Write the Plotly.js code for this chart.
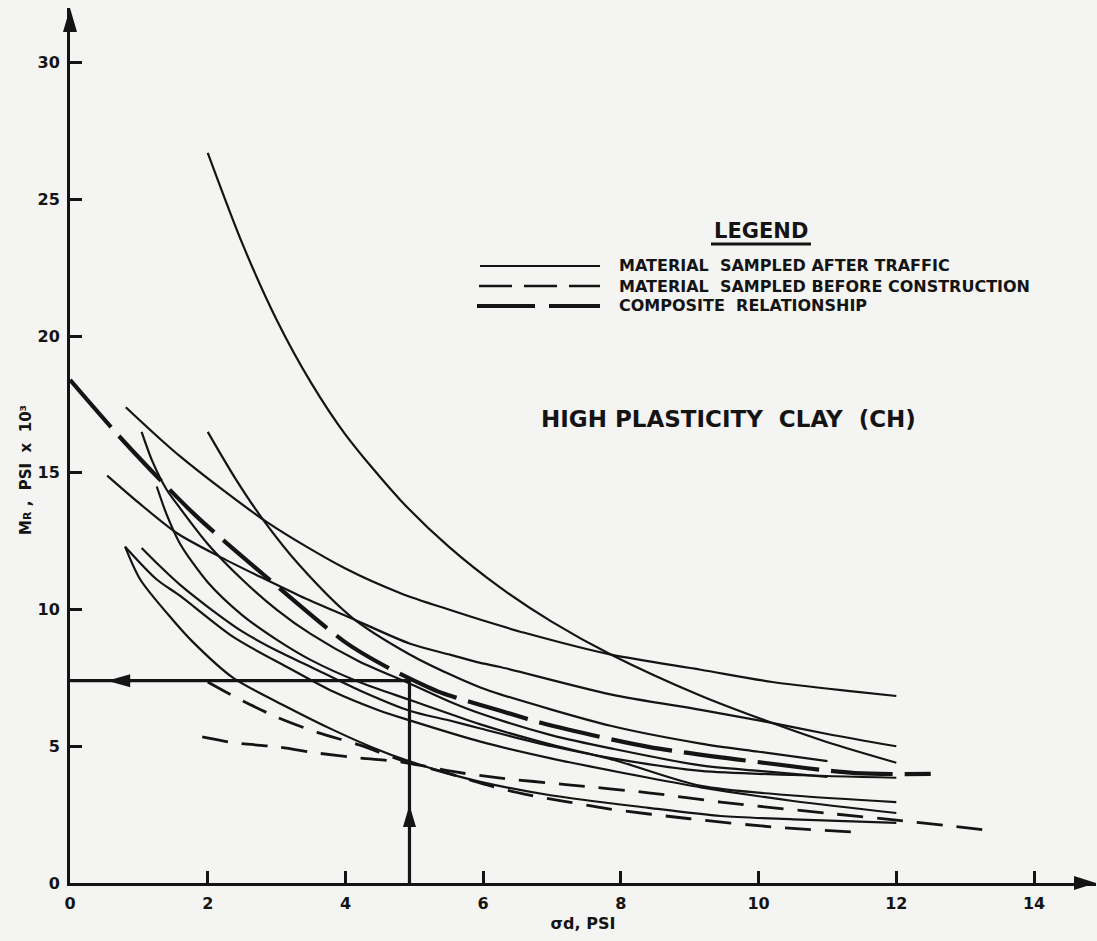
<!DOCTYPE html>
<html><head><meta charset="utf-8">
<script src="https://cdn.plot.ly/plotly-3.0.1.min.js"></script>
<style>html,body{margin:0;padding:0;background:#f4f4f2}</style>
</head><body><div id="chart" style="width:1097px;height:941px"></div>
<script>
// ---- data (x = sigma_d, psi ; y = M_R, psi x 10^3) ----
const s1x = [2.0, 2.5, 3.0, 3.5, 4.0, 4.8, 5.5, 6.25, 7.0, 7.86, 9.16, 10.2, 11.0, 12.0];
const s1y = [26.7, 23.4, 20.6, 18.3, 16.4, 14.0, 12.3, 10.8, 9.55, 8.35, 6.85, 5.85, 5.15, 4.4];
const s2x = [0.81, 1.6, 2.86, 4.0, 4.8, 5.5, 6.0, 6.6, 7.86, 9.16, 10.2, 11.4, 12.0];
const s2y = [17.4, 15.6, 13.2, 11.5, 10.6, 10.0, 9.6, 9.15, 8.35, 7.8, 7.35, 7.0, 6.84];
const s3x = [0.54, 1.0, 1.55, 2.2, 2.76, 3.34, 4.07, 4.94, 5.52, 5.96, 6.25, 7.85, 9.16, 10.1, 11.0, 12.0];
const s3y = [14.9, 13.9, 12.8, 11.9, 11.2, 10.5, 9.7, 8.75, 8.35, 8.05, 7.9, 6.9, 6.33, 5.9, 5.45, 5.0];
const s4x = [2.0, 2.4, 2.8, 3.34, 4.1, 4.94, 5.5, 5.96, 6.25, 7.85, 9.16, 10.0, 11.0];
const s4y = [16.5, 14.8, 13.3, 11.6, 9.7, 8.35, 7.65, 7.15, 6.9, 5.75, 5.1, 4.8, 4.46];
const s5x = [1.04, 1.2, 1.4, 1.6, 2.0, 2.5, 3.0, 3.5, 4.2, 4.93, 5.5, 5.96, 7.0, 7.9, 9.16, 10.0, 11.0];
const s5y = [16.5, 15.4, 14.4, 13.7, 12.4, 11.1, 10.0, 9.1, 8.1, 7.3, 6.65, 6.2, 5.4, 4.9, 4.3, 4.1, 3.88];
const s6x = [1.26, 1.4, 1.6, 2.0, 2.5, 3.0, 3.5, 4.2, 4.93, 5.5, 5.96, 7.0, 7.9, 9.16, 10.5, 12.0];
const s6y = [14.5, 13.5, 12.4, 11.0, 9.8, 8.9, 8.15, 7.35, 6.7, 6.2, 5.8, 5.05, 4.5, 3.55, 3.2, 2.96];
const s7x = [1.04, 1.3, 1.6, 2.0, 2.5, 3.0, 3.5, 4.2, 4.93, 5.5, 5.96, 7.0, 7.9, 9.16, 10.5, 12.0];
const s7y = [12.25, 11.6, 10.9, 10.1, 9.2, 8.5, 7.9, 7.05, 6.3, 5.95, 5.65, 5.0, 4.55, 4.1, 3.95, 3.85];
const s8x = [0.8, 1.26, 1.6, 2.37, 3.15, 3.82, 4.5, 4.93, 5.96, 7.0, 8.4, 9.16, 10.5, 12.0];
const s8y = [12.3, 11.1, 10.5, 9.0, 7.9, 7.0, 6.3, 5.95, 5.17, 4.55, 3.85, 3.5, 3.0, 2.56];
const s9x = [0.8, 1.02, 1.5, 1.79, 2.37, 3.15, 3.82, 4.4, 4.93, 5.5, 5.96, 7.0, 8.4, 9.45, 10.5, 12.0];
const s9y = [12.3, 11.1, 9.6, 8.8, 7.5, 6.44, 5.6, 4.95, 4.45, 4.0, 3.7, 3.2, 2.75, 2.45, 2.33, 2.2];

const d1x = [1.92, 2.4, 3.0, 3.6, 4.2, 4.8, 5.6, 6.2, 7.2, 8.4, 9.45, 11.0, 12.0, 12.8, 13.3];
const d1y = [5.34, 5.12, 4.98, 4.75, 4.57, 4.43, 4.06, 3.85, 3.6, 3.3, 2.96, 2.55, 2.3, 2.08, 1.94];
const d2x = [2.0, 2.4, 3.0, 3.6, 4.2, 4.8, 5.64, 6.0, 6.6, 7.2, 7.8, 9.0, 10.2, 11.34];
const d2y = [7.35, 6.8, 6.07, 5.5, 5.05, 4.5, 3.9, 3.62, 3.25, 2.98, 2.72, 2.35, 2.05, 1.87];

const cx = [0, 0.8, 1.8, 2.8, 4.0, 4.6, 5.35, 5.58, 6.25, 6.85, 8.4, 10.1, 11.4, 12.5];
const cy = [18.4, 16.1, 13.5, 11.3, 8.8, 7.9, 7.0, 6.8, 6.3, 5.85, 4.98, 4.39, 4.02, 3.99];

const guideX = 4.93;      // design stress read on the x axis
const guideY = 7.4;       // resulting modulus read on the y axis
const guideArrowX = 0.54; // tip of left-pointing arrow
const guideArrowY = 2.85; // tip of up-pointing arrow

const xTickVals = [0, 2, 4, 6, 8, 10, 12, 14];
const xTickText = ['0', '2', '4', '6', '8', '10', '12', '14'];
const yTickVals = [0, 5, 10, 15, 20, 25, 30];
const yTickText = ['0', '5', '10', '15', '20', '25', '30'];

const legendLabels = ['MATERIAL  SAMPLED AFTER TRAFFIC',
                      'MATERIAL  SAMPLED BEFORE CONSTRUCTION',
                      'COMPOSITE  RELATIONSHIP'];

// ---- styling ----
const INK = '#141414';
const FONT = 'DejaVu Sans';
const solidLine = {color: INK, width: 2.2, shape: 'spline', smoothing: 0.8};
const dashLine = {color: INK, width: 2.8, dash: '26px,14px', shape: 'spline', smoothing: 0.8};
const compLine = {color: INK, width: 4.2, dash: '62px,12px', shape: 'spline', smoothing: 0.8};

const solids = [[s1x, s1y], [s2x, s2y], [s3x, s3y], [s4x, s4y], [s5x, s5y],
                [s6x, s6y], [s7x, s7y], [s8x, s8y], [s9x, s9y]];
const traces = [];
solids.forEach((p, i) => traces.push({x: p[0], y: p[1], mode: 'lines', line: solidLine,
  name: 'After traffic ' + (i + 1), showlegend: false, hoverinfo: 'x+y'}));
traces.push({x: d1x, y: d1y, mode: 'lines', line: dashLine, showlegend: false, name: 'Before construction 1'});
traces.push({x: d2x, y: d2y, mode: 'lines', line: dashLine, showlegend: false, name: 'Before construction 2'});
traces.push({x: cx, y: cy, mode: 'lines', line: compLine, showlegend: false, name: 'Composite'});
traces.push({x: [0, guideX, guideX], y: [guideY, guideY, 0], mode: 'lines',
  line: {color: INK, width: 3.2}, showlegend: false, name: 'Design guide'});

// paper helpers (plot area: x 70..1096, y 8..883)
const PX = px => (px - 70) / 1026;
const PY = py => (883 - py) / 875;

const shapes = [
  {type: 'path', xref: 'x', yref: 'y', xsizemode: 'pixel', ysizemode: 'pixel',
   xanchor: guideArrowX, yanchor: guideY, path: 'M0,0 L23,6.5 L23,-6.5 Z',
   fillcolor: INK, line: {width: 0}},
  {type: 'path', xref: 'x', yref: 'y', xsizemode: 'pixel', ysizemode: 'pixel',
   xanchor: guideX, yanchor: guideArrowY, path: 'M0,0 L-6.5,-22 L6.5,-22 Z',
   fillcolor: INK, line: {width: 0}},
  {type: 'path', xref: 'paper', yref: 'paper', xsizemode: 'pixel', ysizemode: 'pixel',
   xanchor: 0, yanchor: 1, path: 'M0,0 L-7,-24 L7,-24 Z', fillcolor: INK, line: {width: 0}},
  {type: 'path', xref: 'paper', yref: 'paper', xsizemode: 'pixel', ysizemode: 'pixel',
   xanchor: 1, yanchor: 0, path: 'M0,0 L-22,7 L-22,-7 Z', fillcolor: INK, line: {width: 0}},
  {type: 'line', xref: 'paper', yref: 'paper', x0: PX(711), x1: PX(811), y0: PY(244), y1: PY(244),
   line: {color: INK, width: 2.8}},
  {type: 'line', xref: 'paper', yref: 'paper', x0: PX(480), x1: PX(600), y0: PY(266), y1: PY(266),
   line: {color: INK, width: 2.2}},
  {type: 'line', xref: 'paper', yref: 'paper', x0: PX(479), x1: PX(600), y0: PY(286), y1: PY(286),
   line: {color: INK, width: 2.5, dash: '33px,12px'}},
  {type: 'line', xref: 'paper', yref: 'paper', x0: PX(477), x1: PX(600), y0: PY(306), y1: PY(306),
   line: {color: INK, width: 4.2, dash: '58px,14px'}}
];

const boldFont = (size) => ({family: FONT, size: size, color: INK, weight: 'bold'});
const annotations = [
  {xref: 'paper', yref: 'paper', x: PX(761), y: PY(231), text: 'LEGEND', showarrow: false,
   xanchor: 'center', yanchor: 'middle', font: boldFont(21)},
  {xref: 'paper', yref: 'paper', x: PX(617), y: PY(266), text: legendLabels[0], showarrow: false,
   xanchor: 'left', yanchor: 'middle', font: boldFont(16)},
  {xref: 'paper', yref: 'paper', x: PX(617), y: PY(286), text: legendLabels[1], showarrow: false,
   xanchor: 'left', yanchor: 'middle', font: boldFont(16)},
  {xref: 'paper', yref: 'paper', x: PX(617), y: PY(306), text: legendLabels[2], showarrow: false,
   xanchor: 'left', yanchor: 'middle', font: boldFont(16)},
  {xref: 'paper', yref: 'paper', x: PX(539), y: PY(419), text: 'HIGH PLASTICITY  CLAY  (CH)', showarrow: false,
   xanchor: 'left', yanchor: 'middle', font: boldFont(23)},
  {xref: 'paper', yref: 'paper', x: PX(26), y: PY(470),
   text: 'M<span style="font-size:11px">R</span> ,  PSI  x  10³',
   showarrow: false, textangle: -90, xanchor: 'center', yanchor: 'middle', font: boldFont(15)}
];

const layout = {
  width: 1097, height: 941,
  margin: {l: 70, r: 1, t: 8, b: 58},
  paper_bgcolor: '#f4f4f2', plot_bgcolor: '#f4f4f2',
  showlegend: false,
  xaxis: {range: [0, 14.9], showgrid: false, zeroline: false, showline: true,
    linecolor: INK, linewidth: 3, ticks: 'inside', ticklen: 12, tickwidth: 3, tickcolor: INK,
    tickvals: xTickVals, ticktext: xTickText, ticklabelstandoff: 4,
    tickfont: boldFont(16),
    title: {text: 'σd, PSI', standoff: 6, font: boldFont(16)}},
  yaxis: {range: [0, 32], showgrid: false, zeroline: false, showline: true,
    linecolor: INK, linewidth: 3, ticks: 'inside', ticklen: 12, tickwidth: 3, tickcolor: INK,
    tickvals: yTickVals, ticktext: yTickText, ticklabelstandoff: 4,
    tickfont: boldFont(16)},
  shapes: shapes,
  annotations: annotations
};

Plotly.newPlot('chart', traces, layout, {displayModeBar: false, staticPlot: true});
</script></body></html>
